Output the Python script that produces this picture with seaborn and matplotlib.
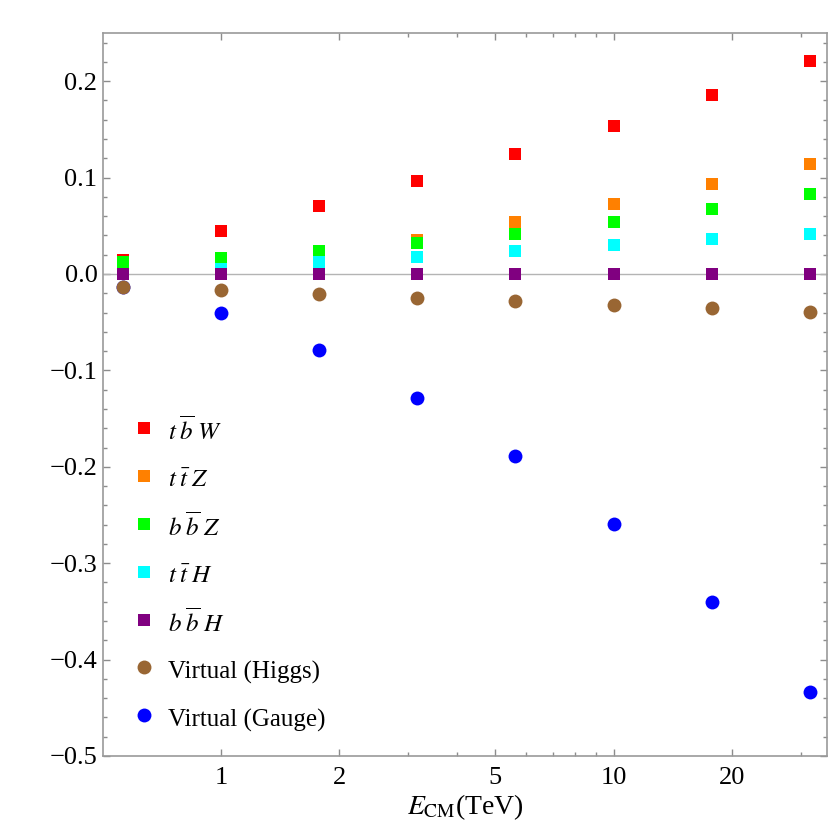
import numpy as np
import pandas as pd
import seaborn as sns
import matplotlib
matplotlib.use("Agg")
import matplotlib.pyplot as plt
from matplotlib.ticker import FixedLocator, FuncFormatter, MultipleLocator, NullFormatter

# centre-of-mass energies (TeV), half-decade steps
e_cm = [0.562, 1.0, 1.778, 3.162, 5.623, 10.0, 17.78, 31.62]

# relative corrections
tbW = [0.0145, 0.045, 0.071, 0.096, 0.1245, 0.154, 0.186, 0.221]
ttZ = [0.0, 0.002, 0.017, 0.035, 0.054, 0.073, 0.093, 0.114]
bbZ = [0.0121, 0.017, 0.024, 0.032, 0.042, 0.054, 0.067, 0.083]
ttH = [0.0, 0.005, 0.012, 0.0176, 0.024, 0.030, 0.036, 0.041]
bbH = [0.0, 0.0, 0.0, 0.0, 0.0, 0.0, 0.0, 0.0]
virt_higgs = [-0.0131, -0.0166, -0.0204, -0.0245, -0.028, -0.0322, -0.0356, -0.0398]
virt_gauge = [-0.014, -0.0408, -0.0792, -0.129, -0.1888, -0.2593, -0.3406, -0.4333]

labels = [r"$t\;\overline{b}\;W$", r"$t\;\bar{t}\;Z$", r"$b\;\overline{b}\;Z$",
          r"$t\;\bar{t}\;H$", r"$b\;\overline{b}\;H$", "Virtual (Higgs)", "Virtual (Gauge)"]
series = [tbW, ttZ, bbZ, ttH, bbH, virt_higgs, virt_gauge]
colors = ["#ff0000", "#ff8000", "#00ff00", "#00ffff", "#800080", "#996633", "#0000ff"]
markers = ["s", "s", "s", "s", "s", "o", "o"]
sizes = [75, 75, 75, 75, 75, 100, 100]
zorders = [3, 4, 5, 6, 7, 8, 2.5]

sns.set_theme(style="ticks")
plt.rcParams["font.family"] = ["Liberation Serif", "DejaVu Serif"]
plt.rcParams["mathtext.fontset"] = "stix"
plt.rcParams["axes.unicode_minus"] = True
plt.rcParams["text.color"] = "black"
plt.rcParams["axes.labelcolor"] = "black"

fig = plt.figure(figsize=(8.3, 8.3), dpi=100)
ax = fig.add_axes([103 / 830, (830 - 756) / 830, 724 / 830, 723 / 830])

ax.axhline(0, color="#b4b4b4", lw=1.0, zorder=1)

for lab, vals, col, mk, sz, zo in zip(labels, series, colors, markers, sizes, zorders):
    df = pd.DataFrame({"E": e_cm, "val": vals})
    sns.scatterplot(data=df, x="E", y="val", color=col, marker=mk, s=sz,
                    linewidth=0, label=lab, ax=ax, zorder=zo)

ax.set_xscale("log")
ax.set_xlim(0.5, 35)
ax.set_ylim(-0.5, 0.25)

ax.xaxis.set_major_locator(FixedLocator([1, 2, 5, 10, 20]))
ax.xaxis.set_minor_locator(FixedLocator([3, 4, 6, 7, 8, 9, 30]))
ax.xaxis.set_major_formatter(FuncFormatter(lambda v, p: f"{v:g}"))
ax.xaxis.set_minor_formatter(NullFormatter())

ax.yaxis.set_major_locator(MultipleLocator(0.1))
ax.yaxis.set_minor_locator(MultipleLocator(0.02))
ax.yaxis.set_major_formatter(FuncFormatter(lambda v, p: f"{v:.1f}".replace("-", "\u2212")))

ax.tick_params(which="both", direction="in", top=True, right=True, color="#8c8c8c",
               labelsize=19, labelcolor="black", width=1.0)
ax.tick_params(which="major", length=5)
ax.tick_params(which="minor", length=3)
ax.tick_params(axis="x", which="major", pad=8)
ax.tick_params(axis="y", which="major", pad=4)

for sp in ax.spines.values():
    sp.set_color("#9a9a9a")
    sp.set_linewidth(1.2)

ax.set_xlabel(r"$E_{\rm CM}$(TeV)", fontsize=20, labelpad=2)
ax.set_ylabel("")

ax.legend(loc="center left", bbox_to_anchor=(0.0394, 0.251), frameon=False,
          fontsize=18, handlelength=1.0, handleheight=1.5, handletextpad=0.46,
          labelspacing=0.69, borderaxespad=0, borderpad=0, labelcolor="black")

fig.savefig("out.png", dpi=100)
plt.close(fig)
